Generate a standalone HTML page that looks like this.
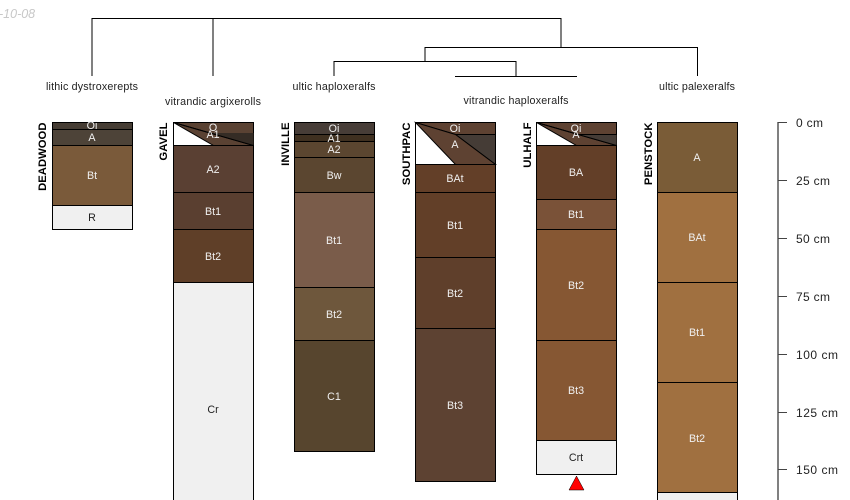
<!DOCTYPE html>
<html><head><meta charset="utf-8"><style>
html,body{margin:0;padding:0;background:#fff}
svg{display:block}
text{font-family:"Liberation Sans",sans-serif;font-size:10.7px}
.w{fill:#f0f0f0;text-anchor:middle}
.k{fill:#222;text-anchor:middle}
.t{fill:#222;text-anchor:middle}
.n{fill:#000;font-weight:bold;text-anchor:end;font-size:11.3px}
.h{stroke:#000;stroke-width:1;fill:none}
.s{stroke:#000;stroke-width:1;shape-rendering:auto}
.c{font-size:12px}
</style></head><body>
<svg width="850" height="500" viewBox="0 0 850 500" xmlns="http://www.w3.org/2000/svg">
<rect width="850" height="500" fill="#fff"/>
<text x="-1" y="18" style="font-size:12.5px;font-style:italic;fill:#c8c8c8">-10-08</text>

<g class="h">
<path d="M92 18.5H561M92 18V76M213 18V76M561 18V47M425 47.5H697.5M697.5 47V76M425 47V61M334 61.5H516M334 61V76M516 61V76M455 76.5H577"/>
</g>
<text class="t" x="92" y="90" textLength="92">lithic dystroxerepts</text>
<text class="t" x="213" y="105" textLength="96">vitrandic argixerolls</text>
<text class="t" x="334" y="90" textLength="83">ultic haploxeralfs</text>
<text class="t" x="516" y="104" textLength="105">vitrandic haploxeralfs</text>
<text class="t" x="697" y="90" textLength="76">ultic palexeralfs</text>

<!-- DEADWOOD -->
<g class="s">
<rect x="52.5" y="122.5" width="80" height="7" fill="#453c33"/>
<rect x="52.5" y="129.5" width="80" height="16" fill="#4d4338"/>
<rect x="52.5" y="145.5" width="80" height="60" fill="#7a5a3a"/>
<rect x="52.5" y="205.5" width="80" height="24" fill="#f0f0f0"/>
</g>
<text class="w" x="92" y="129">Oi</text><text class="w" x="92" y="141">A</text><text class="w" x="92" y="179">Bt</text><text class="k" x="92" y="221">R</text>
<text class="n" transform="translate(46,122.5) rotate(-90)">DEADWOOD</text>

<!-- GAVEL -->
<g class="s">
<rect x="173.5" y="122.5" width="80" height="23" fill="#fff"/>
<path d="M173.5 122.5H253.5V145.5Z" fill="#5a4233"/>
<path d="M173.5 122.5L253.5 145.5H213.5Z" fill="#5a4233"/>
<path d="M212 133H253.5V145.5Z" fill="#352c25" stroke="none"/>
<path d="M173.5 122.5L253.5 145.5" fill="none"/>
<rect x="173.5" y="145.5" width="80" height="47" fill="#5a4033"/>
<rect x="173.5" y="192.5" width="80" height="37" fill="#5a3f30"/>
<rect x="173.5" y="229.5" width="80" height="53" fill="#5f3f28"/>
<rect x="173.5" y="282.5" width="80" height="230" fill="#f0f0f0"/>
</g>
<text class="w" x="213" y="131">O</text><text class="w" x="213" y="138">A1</text><text class="w" x="213" y="173">A2</text><text class="w" x="213" y="215">Bt1</text><text class="w" x="213" y="260">Bt2</text><text class="k" x="213" y="413">Cr</text>
<text class="n" transform="translate(167,122.5) rotate(-90)">GAVEL</text>

<!-- INVILLE -->
<g class="s">
<rect x="294.5" y="122.5" width="80" height="12" fill="#473d37"/>
<rect x="294.5" y="134.5" width="80" height="7" fill="#3f3020"/>
<rect x="294.5" y="141.5" width="80" height="16" fill="#5b4630"/>
<rect x="294.5" y="157.5" width="80" height="35" fill="#5b4630"/>
<rect x="294.5" y="192.5" width="80" height="95" fill="#7a5c4a"/>
<rect x="294.5" y="287.5" width="80" height="53" fill="#6e573c"/>
<rect x="294.5" y="340.5" width="80" height="111" fill="#57452e"/>
</g>
<text class="w" x="334" y="132">Oi</text><text class="w" x="334" y="142">A1</text><text class="w" x="334" y="153">A2</text><text class="w" x="334" y="179">Bw</text><text class="w" x="334" y="244">Bt1</text><text class="w" x="334" y="318">Bt2</text><text class="w" x="334" y="400">C1</text>
<text class="n" transform="translate(289,122.5) rotate(-90)">INVILLE</text>

<!-- SOUTHPAC -->
<g class="s">
<rect x="415.5" y="122.5" width="80" height="42" fill="#fff"/>
<path d="M415.5 122.5H495.5V134.5H455.5Z" fill="#5e4232"/>
<path d="M455.5 134.5H495.5V164.5Z" fill="#453c36"/>
<path d="M415.5 122.5L455.5 134.5L495.5 164.5H455.5Z" fill="#5e4232"/>
<rect x="415.5" y="164.5" width="80" height="28" fill="#633f28"/>
<rect x="415.5" y="192.5" width="80" height="65" fill="#623f28"/>
<rect x="415.5" y="257.5" width="80" height="71" fill="#5f3f2b"/>
<rect x="415.5" y="328.5" width="80" height="153" fill="#5d4232"/>
</g>
<text class="w" x="455" y="132">Oi</text><text class="w" x="455" y="148">A</text><text class="w" x="455" y="182">BAt</text><text class="w" x="455" y="229">Bt1</text><text class="w" x="455" y="297">Bt2</text><text class="w" x="455" y="409">Bt3</text>
<text class="n" transform="translate(410,122.5) rotate(-90)">SOUTHPAC</text>

<!-- ULHALF -->
<g class="s">
<rect x="536.5" y="122.5" width="80" height="23" fill="#fff"/>
<path d="M536.5 122.5H616.5V145.5Z" fill="#5e4232"/>
<path d="M536.5 122.5L616.5 145.5H576.5Z" fill="#5e4232"/>
<path d="M578 134.5H616.5V145.5Z" fill="#453c36" stroke="none"/>
<path d="M578 134.5H616.5M536.5 122.5L616.5 145.5" fill="none"/>
<rect x="536.5" y="145.5" width="80" height="54" fill="#633f28"/>
<rect x="536.5" y="199.5" width="80" height="30" fill="#7a5238"/>
<rect x="536.5" y="229.5" width="80" height="111" fill="#865733"/>
<rect x="536.5" y="340.5" width="80" height="100" fill="#865733"/>
<rect x="536.5" y="440.5" width="80" height="34" fill="#f0f0f0"/>
</g>
<text class="w" x="576" y="132">Oi</text><text class="w" x="576" y="138">A</text><text class="w" x="576" y="176">BA</text><text class="w" x="576" y="218">Bt1</text><text class="w" x="576" y="289">Bt2</text><text class="w" x="576" y="394">Bt3</text><text class="k" x="576" y="461">Crt</text>
<path d="M576.5 476L584 490H569Z" fill="#f00" stroke="#000" stroke-width="0.5"/>
<text class="n" transform="translate(531,122.5) rotate(-90)">ULHALF</text>

<!-- PENSTOCK -->
<g class="s">
<rect x="657.5" y="122.5" width="80" height="70" fill="#7a5c37"/>
<rect x="657.5" y="192.5" width="80" height="90" fill="#a07040"/>
<rect x="657.5" y="282.5" width="80" height="100" fill="#a07040"/>
<rect x="657.5" y="382.5" width="80" height="110" fill="#a07040"/>
<rect x="657.5" y="492.5" width="80" height="20" fill="#f0f0f0"/>
</g>
<text class="w" x="697" y="161">A</text><text class="w" x="697" y="241">BAt</text><text class="w" x="697" y="336">Bt1</text><text class="w" x="697" y="442">Bt2</text>
<text class="n" transform="translate(652,122.5) rotate(-90)">PENSTOCK</text>

<!-- scale -->
<path d="M778 122V500" stroke="#808080" stroke-width="2" fill="none"/>
<path d="M778 122.5H787M778 180.5H787M778 238.5H787M778 296.5H787M778 354.5H787M778 412.5H787M778 469.5H787" stroke="#444" stroke-width="1" fill="none"/>
<g style="fill:#222">
<text class="c" x="796" y="127" textLength="27">0 cm</text>
<text class="c" x="796" y="185" textLength="34">25 cm</text>
<text class="c" x="796" y="243" textLength="34">50 cm</text>
<text class="c" x="796" y="301" textLength="34">75 cm</text>
<text class="c" x="796" y="359" textLength="42">100 cm</text>
<text class="c" x="796" y="417" textLength="42">125 cm</text>
<text class="c" x="796" y="474" textLength="42">150 cm</text>
</g>
</svg>
</body></html>
